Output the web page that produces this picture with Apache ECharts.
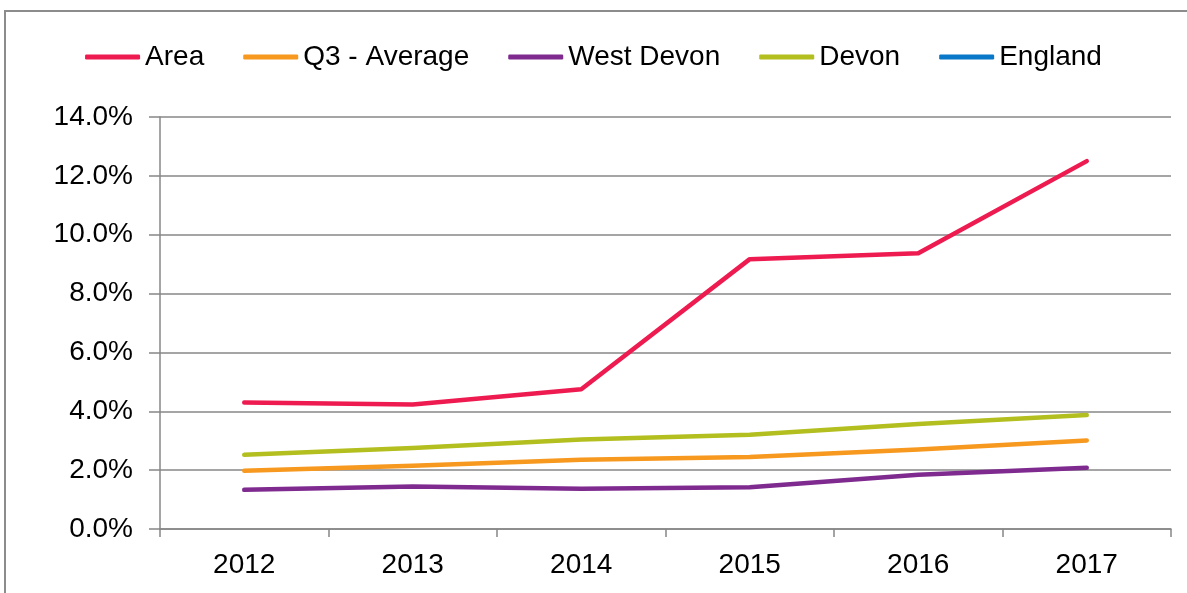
<!DOCTYPE html>
<html>
<head>
<meta charset="utf-8">
<script src="https://cdn.jsdelivr.net/npm/echarts@6/dist/echarts.min.js"></script>
<style>
  html, body { margin: 0; padding: 0; background: #fff; }
  #chart { width: 1187px; height: 593px; }
</style>
</head>
<body>
<div id="chart"></div>
<script>
  var years = ['2012', '2013', '2014', '2015', '2016', '2017'];
  var area = [4.30, 4.23, 4.75, 9.17, 9.37, 12.5];
  var q3Average = [1.98, 2.15, 2.35, 2.45, 2.70, 3.01];
  var westDevon = [1.33, 1.44, 1.37, 1.42, 1.84, 2.08];
  var devon = [2.52, 2.75, 3.04, 3.20, 3.57, 3.87];
  var england = [null, null, null, null, null, null]; // no line drawn in the picture

  var chart = echarts.init(document.getElementById('chart'));

  function line(name, data, color) {
    return {
      name: name,
      type: 'line',
      data: data,
      symbol: 'none',
      color: color,
      lineStyle: { color: color, width: 4.5, cap: 'round', join: 'round' }
    };
  }

  chart.setOption({
    animation: false,
    textStyle: { fontFamily: 'Liberation Sans, Arial, sans-serif' },
    graphic: [{
      type: 'rect',
      shape: { x: 5, y: 11, width: 1200, height: 600 },
      style: { fill: 'none', stroke: '#8c8c8c', lineWidth: 2 },
      silent: true
    }],
    legend: {
      top: 38,
      left: 'center',
      icon: 'roundRect',
      itemWidth: 55,
      itemHeight: 5,
      itemGap: 39,
      textStyle: { fontSize: 28, color: '#000', fontFamily: 'Liberation Sans, Arial, sans-serif' },
      data: ['Area', 'Q3 - Average', 'West Devon', 'Devon', 'England']
    },
    grid: { left: 160, right: 16, top: 117, bottom: 64 },
    xAxis: {
      type: 'category',
      data: years,
      boundaryGap: true,
      axisLine: { lineStyle: { color: '#878787', width: 1.5 } },
      axisTick: { show: true, length: 8, lineStyle: { color: '#878787', width: 1.5 } },
      axisLabel: { fontSize: 28, color: '#000', margin: 22 },
      splitLine: { show: false }
    },
    yAxis: {
      type: 'value',
      min: 0,
      max: 14,
      interval: 2,
      axisLine: { show: true, lineStyle: { color: '#878787', width: 1.5 } },
      axisTick: { show: true, length: 11, lineStyle: { color: '#878787', width: 1.5 } },
      axisLabel: {
        fontSize: 28, color: '#000', margin: 27,
        formatter: function (v) { return v.toFixed(1) + '%'; }
      },
      splitLine: { lineStyle: { color: '#878787', width: 1.5 } }
    },
    series: [
      line('Area', area, '#ee1b51'),
      line('Q3 - Average', q3Average, '#f7981f'),
      line('West Devon', westDevon, '#7e2a8f'),
      line('Devon', devon, '#b3be1f'),
      line('England', england, '#0a78c8')
    ]
  });
</script>
</body>
</html>
